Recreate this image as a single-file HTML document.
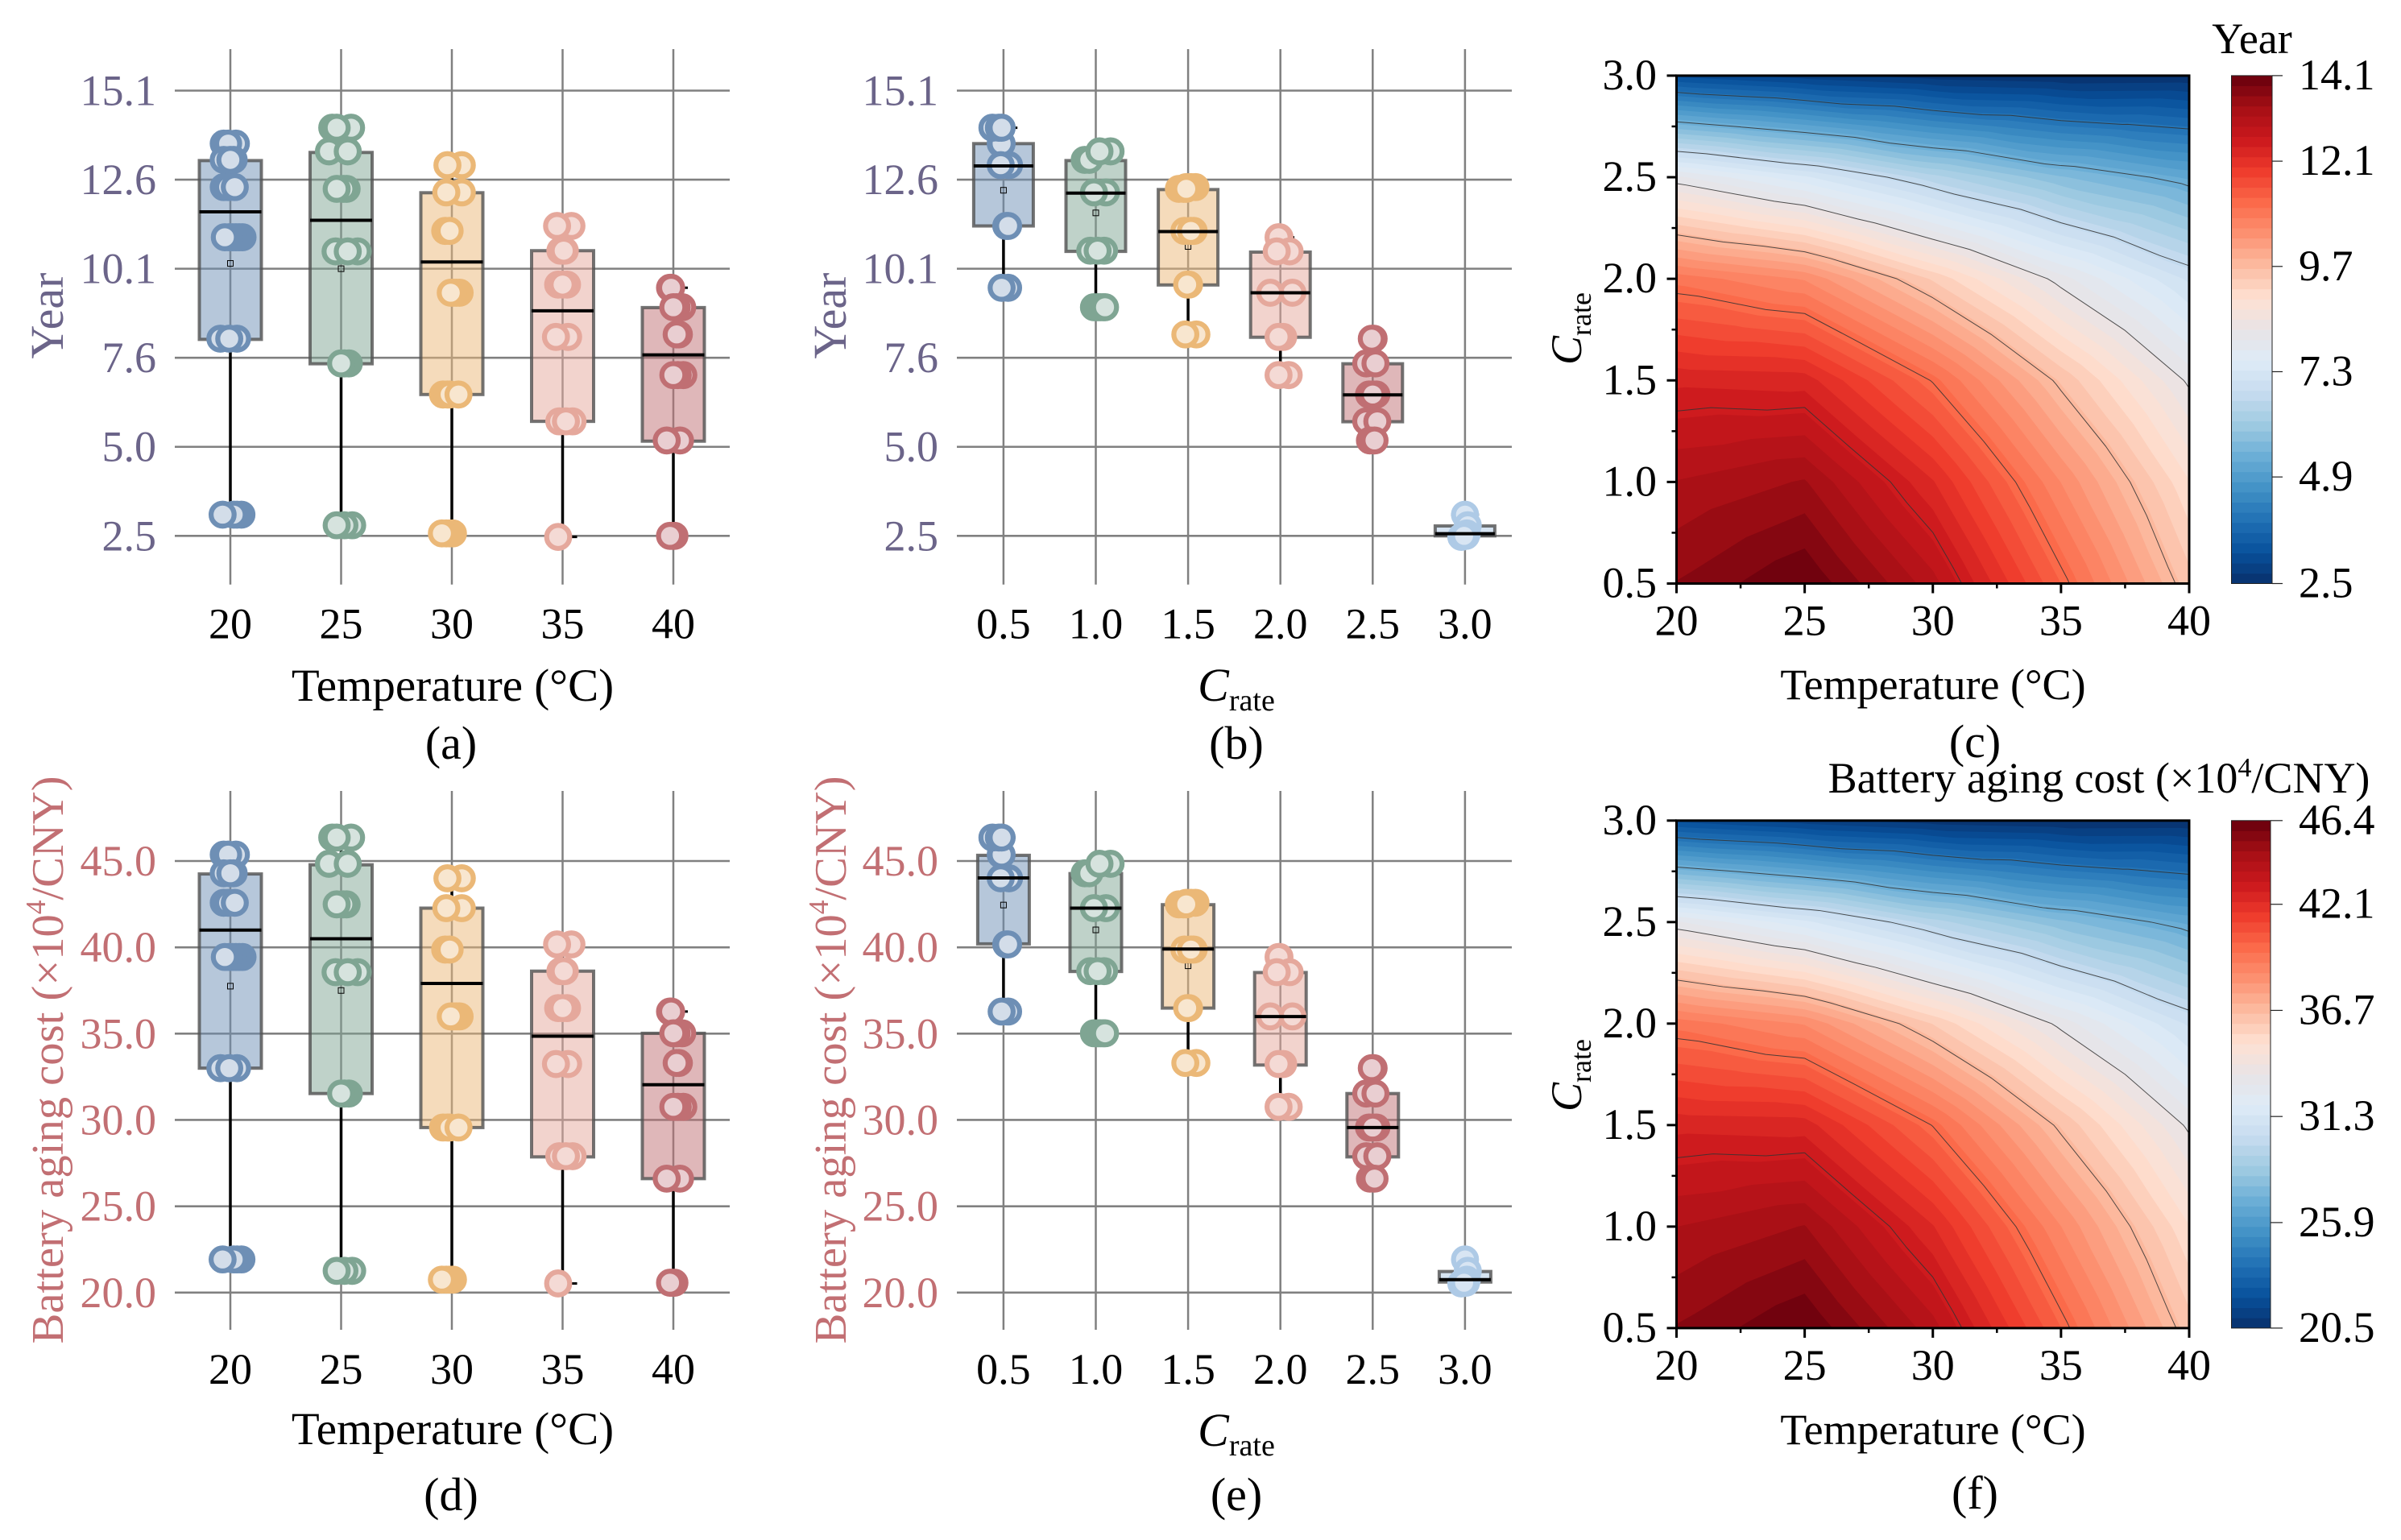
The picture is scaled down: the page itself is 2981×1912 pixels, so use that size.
<!DOCTYPE html>
<html lang="en">
<head>
<meta charset="utf-8">
<title>Battery life and aging cost</title>
<style>
html,body{margin:0;padding:0;background:#fff;}
svg{display:block;}
text{font-family:"Liberation Serif","Times New Roman",serif;fill:#000;}
</style>
</head>
<body>
<svg id="fig" xmlns="http://www.w3.org/2000/svg" width="2981" height="1912" viewBox="0 0 2981 1912">
<rect width="2981" height="1912" fill="#fff"/>

<text transform="translate(78,392) rotate(-90)" text-anchor="middle" font-size="58" style="fill:#6b6489">Year</text>
<text transform="translate(1050,392) rotate(-90)" text-anchor="middle" font-size="58" style="fill:#6b6489">Year</text>
<text transform="translate(78,1316) rotate(-90)" text-anchor="middle" font-size="56.6" style="fill:#c26f73">Battery aging cost (×10<tspan font-size="35" dy="-22">4</tspan><tspan dy="22">/CNY)</tspan></text>
<text transform="translate(1050,1316) rotate(-90)" text-anchor="middle" font-size="56.6" style="fill:#c26f73">Battery aging cost (×10<tspan font-size="35" dy="-22">4</tspan><tspan dy="22">/CNY)</tspan></text>

<text x="562" y="870" text-anchor="middle" font-size="57">Temperature (°C)</text>
<text x="562" y="1793" text-anchor="middle" font-size="57">Temperature (°C)</text>
<text x="1535" y="870" text-anchor="middle" font-size="58"><tspan font-style="italic">C</tspan><tspan font-size="38" dy="12">rate</tspan></text>
<text x="1535" y="1795" text-anchor="middle" font-size="58"><tspan font-style="italic">C</tspan><tspan font-size="38" dy="12">rate</tspan></text>
<text x="2400" y="868" text-anchor="middle" font-size="54">Temperature (°C)</text>
<text x="2400" y="1793" text-anchor="middle" font-size="54">Temperature (°C)</text>
<text transform="translate(1963,408) rotate(-90)" text-anchor="middle" font-size="54"><tspan font-style="italic">C</tspan><tspan font-size="36" dy="12">rate</tspan></text>
<text transform="translate(1963,1335) rotate(-90)" text-anchor="middle" font-size="54"><tspan font-style="italic">C</tspan><tspan font-size="36" dy="12">rate</tspan></text>

<text x="2796" y="66" text-anchor="middle" font-size="54">Year</text>
<text x="2606" y="984" text-anchor="middle" font-size="54">Battery aging cost (×10<tspan font-size="34" dy="-20">4</tspan><tspan dy="20">/CNY)</tspan></text>

<text x="560" y="942" text-anchor="middle" font-size="58">(a)</text>
<text x="1535" y="942" text-anchor="middle" font-size="58">(b)</text>
<text x="2452" y="940" text-anchor="middle" font-size="58">(c)</text>
<text x="560" y="1875" text-anchor="middle" font-size="58">(d)</text>
<text x="1535" y="1875" text-anchor="middle" font-size="58">(e)</text>
<text x="2452" y="1873" text-anchor="middle" font-size="58">(f)</text>
</svg>

<script>
// ---------- shared categories ----------
var temperatures = [20, 25, 30, 35, 40];
var cRates = [0.5, 1.0, 1.5, 2.0, 2.5, 3.0];
var temperatureLabels = ['20', '25', '30', '35', '40'];
var cRateLabels = ['0.5', '1.0', '1.5', '2.0', '2.5', '3.0'];

// ---------- values: one row per temperature, one entry per C-rate ----------
var yearT20 = [13.60, 13.14, 12.37, 10.95, 8.08, 3.10];
var yearT25 = [14.05, 13.38, 12.32, 10.55, 7.38, 2.80];
var yearT30 = [12.99, 12.22, 11.13, 9.38, 6.50, 2.57];
var yearT35 = [11.27, 10.57, 9.61, 8.13, 5.74, 2.47];
var yearT40 = [9.52, 8.97, 8.20, 7.05, 5.20, 2.50];
var costT20 = [45.37, 44.29, 42.58, 39.44, 33.00, 21.92];
var costT25 = [46.36, 44.84, 42.49, 38.56, 31.53, 21.26];
var costT30 = [44.00, 42.27, 39.87, 36.00, 29.56, 20.75];
var costT35 = [40.17, 38.62, 36.48, 33.24, 27.90, 20.53];
var costT40 = [36.28, 35.02, 33.30, 30.76, 26.60, 20.57];

// ---------- box statistics ----------
var aQ3 = [13.12, 13.35, 12.21, 10.57, 8.96];
var aQ1 = [8.06, 7.37, 6.50, 5.74, 5.18];
var aMedian = [11.67, 11.43, 10.25, 8.87, 7.62];
var aMean = [10.21, 10.06, 9.6, 8.3, 7.1];
var bQ3 = [13.60, 13.12, 12.30, 10.53, 7.37, 2.78];
var bQ1 = [11.27, 10.55, 9.60, 8.12, 5.73, 2.50];
var bMedian = [12.97, 12.20, 11.11, 9.38, 6.49, 2.56];
var bMean = [12.28, 11.64, 10.69, 9.3, 6.4, 2.6];
var dQ3 = [44.25, 44.78, 42.27, 38.62, 35.02];
var dQ1 = [33.00, 31.53, 29.56, 27.86, 26.60];
var dMedian = [41.00, 40.50, 37.91, 34.85, 32.04];
var dMean = [37.75, 37.50, 36.0, 33.2, 30.7];
var eQ3 = [45.33, 44.27, 42.47, 38.54, 31.53, 21.22];
var eQ1 = [40.20, 38.60, 36.48, 33.18, 27.86, 20.61];
var eMedian = [44.02, 42.27, 39.90, 35.99, 29.56, 20.75];
var eMean = [42.45, 41.01, 38.93, 35.9, 29.5, 20.9];

// ---------- repeated-sample jitter, hundredths of a category step ----------
var tempJitter = [
  [[5,-6,-2],[-6,3,0],[-6,-2,4],[11,8,5,2,-1,-5],[-9,6,-1],[10,6,3,-7]],
  [[9,-8,-4],[-11,6],[5,2,-4],[15,-5,6],[7,3,0],[10,3,-4]],
  [[9,-4],[9,-5],[-6,-2],[7,4,1,-1],[-8,-4,-2,6],[1,-2,-5,-9]],
  [[8,-5],[2,-2,1],[-4,4,0],[5,-6],[9,-3,3],[-4]],
  [[-3,-2],[8,3,0],[5,3],[9,4,0],[6,-6],[1,-1,-3]]
];
var rateJitter = [
  [[-3,-2],[-12,-5,-2],[6,-3],[3,5],[5,-2]],
  [[-12,-7],[16,4],[11,-2],[9,-6,2],[-2,2,5,8,10]],
  [[8,3,-2],[-10,-5,-2],[-4,6,3],[1,-1],[9,-3]],
  [[-1,-2],[10,-4],[13,-11],[3,-2],[9,-2]],
  [[1,-1],[-7,3],[-4,4,0],[-7,5],[-3,2]],
  [[0],[3],[2],[-4],[1,-1]]
];

// ---------- tick values and labels ----------
var yearTicks = [2.5, 5.02, 7.54, 10.06, 12.58, 15.1];
var yearTickLabels = ['2.5', '5.0', '7.6', '10.1', '12.6', '15.1'];
var costTicks = [20, 25, 30, 35, 40, 45];
var costTickLabels = ['20.0', '25.0', '30.0', '35.0', '40.0', '45.0'];
var yearBarTicks = [2.47, 4.9, 7.3, 9.7, 12.1, 14.05];
var yearBarLabels = ['2.5', '4.9', '7.3', '9.7', '12.1', '14.1'];
var costBarTicks = [20.53, 25.9, 31.3, 36.7, 42.1, 46.36];
var costBarLabels = ['20.5', '25.9', '31.3', '36.7', '42.1', '46.4'];

var yearGrid = [yearT20, yearT25, yearT30, yearT35, yearT40];
var costGrid = [costT20, costT25, costT30, costT35, costT40];

// ---------- styling ----------
var tempColors = ['#6e8fb5', '#7fa593', '#ebb877', '#e5a89c', '#c06f73'];
var tempFills = ['#d3dde9', '#d6e3de', '#f8e6cf', '#f4dad5', '#e9ced1'];
var rateColors = ['#6e8fb5', '#7fa593', '#ebb877', '#e5a89c', '#c06f73', '#aecae6'];
var rateFills = ['#d3dde9', '#d6e3de', '#f8e6cf', '#f4dad5', '#e9ced1', '#d8e5f3'];
var cmapStops = ['#08306b','#08519c','#2171b5','#4292c6','#6baed6','#9ecae1','#c6dbef','#deebf7','#e8e4e6','#fee0d2','#fcbba1','#fc9272','#fb6a4a','#ef3b2c','#cb181d','#a50f15','#67000d'];

var svg = document.getElementById('fig');
var NS = 'http://www.w3.org/2000/svg';
function el(tag, attrs, parent) {
  var e = document.createElementNS(NS, tag);
  for (var k in attrs) e.setAttribute(k, attrs[k]);
  (parent || svg).appendChild(e);
  return e;
}
function rgb(h) { return [parseInt(h.substr(1,2),16), parseInt(h.substr(3,2),16), parseInt(h.substr(5,2),16)]; }
function cmap(t) {
  var s = Math.max(0, Math.min(0.9999, t)) * (cmapStops.length - 1);
  var i = Math.floor(s), f = s - i, a = rgb(cmapStops[i]), b = rgb(cmapStops[i+1]);
  return 'rgb(' + Math.round(a[0]+(b[0]-a[0])*f) + ',' + Math.round(a[1]+(b[1]-a[1])*f) + ',' + Math.round(a[2]+(b[2]-a[2])*f) + ')';
}

function boxPanel(p) {
  var g = el('g', {});
  
  
  function X(i) { return p.x0 + i * p.dx; }
  function Y(v) { return p.yBase + (v - p.vBase) * p.yScale; }

  p.ticks.forEach(function (v, i) {
    var h = el('line', {x1: p.left, x2: p.right, y1: Y(v), y2: Y(v), stroke: '#808080', 'stroke-width': 2.6}, g);
    
    
    var t = el('text', {x: p.tickRight, y: Y(v) + 18, 'text-anchor': 'end', 'font-size': 54, style: 'fill:' + p.tickColor}, g);
    t.textContent = p.tickLabels[i];
    
    
  });
  p.cats.forEach(function (c, i) {
    var vl = el('line', {x1: X(i), x2: X(i), y1: p.top, y2: p.bottom, stroke: '#808080', 'stroke-width': 2.5}, g);
    
    
    var t = el('text', {x: X(i), y: p.bottom + 67, 'text-anchor': 'middle', 'font-size': 54}, g);
    t.textContent = c;
    
    
  });

  p.cats.forEach(function (c, i) {
    var vals = p.values(i);
    var hi = Math.max.apply(null, vals), lo = Math.min.apply(null, vals);
    var x = X(i), hw = p.boxW / 2, cap = p.boxW * 0.234;
    var w1 = el('line', {x1: x, x2: x, y1: Y(p.q3[i]), y2: Y(hi), stroke: '#000', 'stroke-width': 3.5}, g);
    
    
    var w2 = el('line', {x1: x, x2: x, y1: Y(p.q1[i]), y2: Y(lo), stroke: '#000', 'stroke-width': 3.5}, g);
    
    
    var c1 = el('line', {x1: x - cap, x2: x + cap, y1: Y(hi), y2: Y(hi), stroke: '#000', 'stroke-width': 3}, g);
    
    
    var c2 = el('line', {x1: x - cap, x2: x + cap, y1: Y(lo), y2: Y(lo), stroke: '#000', 'stroke-width': 3}, g);
    
    
    var b = el('rect', {x: x - hw, y: Y(p.q3[i]), width: p.boxW, height: Y(p.q1[i]) - Y(p.q3[i]), fill: p.colors[i], 'fill-opacity': 0.5, stroke: '#505050', 'stroke-opacity': 0.8, 'stroke-width': 4}, g);
    
    
    var m = el('rect', {x: x - 3.5, y: Y(p.mean[i]) - 3.5, width: 7, height: 7, fill: 'none', stroke: '#000', 'stroke-width': 1}, g);
    
    
    vals.forEach(function (v, j) {
      p.jitter[i][j].forEach(function (jit) {
        var pt = el('circle', {cx: x + jit * p.dx / 100, cy: Y(v), r: 14.3, fill: p.fills[i], stroke: p.colors[i], 'stroke-width': 6.2}, g);
        
        
      });
    });
    var med = el('line', {x1: x - hw, x2: x + hw, y1: Y(p.median[i]), y2: Y(p.median[i]), stroke: '#000', 'stroke-width': 4}, g);
    
    
  });
}

function byTemp(grid) { return function (i) { return grid[i]; }; }
function byRate(grid) { return function (i) { return grid.map(function (r) { return r[i]; }); }; }

var yearAxis = {ticks: yearTicks, tickLabels: yearTickLabels, tickColor: '#6b6489', yBase: 665.3, vBase: 2.5, yScale: (112.5 - 665.3) / 12.6, top: 61, bottom: 725.7};
var costAxis = {ticks: costTicks, tickLabels: costTickLabels, tickColor: '#c26f73', yBase: 1604.8, vBase: 20, yScale: (1069 - 1604.8) / 25, top: 982, bottom: 1651};
function merge(a, b) { var o = {}; for (var k in a) o[k] = a[k]; for (var k2 in b) o[k2] = b[k2]; return o; }

var leftLayout = {x0: 286, dx: 137.5, left: 217, right: 906, tickRight: 194, colors: tempColors, fills: tempFills, cats: temperatureLabels, jitter: tempJitter};
var midLayout = {x0: 1245.9, dx: 114.6, left: 1188, right: 1877, tickRight: 1165, colors: rateColors, fills: rateFills, cats: cRateLabels, jitter: rateJitter};

boxPanel(merge(merge(leftLayout, yearAxis), {name: 'panel-a-boxplot', boxW: 77, q1: aQ1, q3: aQ3, median: aMedian, mean: aMean, values: byTemp(yearGrid)}));
boxPanel(merge(merge(midLayout, yearAxis), {name: 'panel-b-boxplot', boxW: 74, q1: bQ1, q3: bQ3, median: bMedian, mean: bMean, values: byRate(yearGrid)}));
boxPanel(merge(merge(leftLayout, costAxis), {name: 'panel-d-boxplot', boxW: 77, q1: dQ1, q3: dQ3, median: dMedian, mean: dMean, values: byTemp(costGrid)}));
boxPanel(merge(merge(midLayout, costAxis), {name: 'panel-e-boxplot', boxW: 64, q1: eQ1, q3: eQ3, median: eMedian, mean: eMean, values: byRate(costGrid)}));

// ---------- contour panels ----------
function heatPanel(p) {
  var g = el('g', {});
  
  
  var L = 2081.5, R = 2718, T = p.top, B = p.bottom;
  function X(t) { return L + (t - 20) / 20 * (R - L); }
  function Y(c) { return B - (c - 0.5) / 2.5 * (B - T); }
  var flat = [].concat.apply([], p.grid);
  var vmin = Math.min.apply(null, flat), vmax = Math.max.apply(null, flat);

  var tris = [];
  for (var i = 0; i < temperatures.length - 1; i++) {
    for (var j = 0; j < cRates.length - 1; j++) {
      var a = [X(temperatures[i]), Y(cRates[j]), p.grid[i][j]];
      var b = [X(temperatures[i+1]), Y(cRates[j]), p.grid[i+1][j]];
      var c = [X(temperatures[i+1]), Y(cRates[j+1]), p.grid[i+1][j+1]];
      var d = [X(temperatures[i]), Y(cRates[j+1]), p.grid[i][j+1]];
      var m = [(a[0]+c[0])/2, (a[1]+c[1])/2, (a[2]+b[2]+c[2]+d[2])/4];
      tris.push([a,b,m],[b,c,m],[c,d,m],[d,a,m]);
    }
  }
  function clipAbove(tri, lev) {
    var out = [];
    for (var k = 0; k < 3; k++) {
      var s = tri[k], e = tri[(k+1)%3];
      if (s[2] >= lev) out.push(s);
      if ((s[2] >= lev) !== (e[2] >= lev)) {
        var f = (lev - s[2]) / (e[2] - s[2]);
        out.push([s[0]+(e[0]-s[0])*f, s[1]+(e[1]-s[1])*f, lev]);
      }
    }
    return out;
  }
  var bands = 50;
  for (var n = 0; n < bands; n++) {
    var lev = vmin + (vmax - vmin) * n / bands;
    var dstr = '';
    tris.forEach(function (tr) {
      var poly = n === 0 ? tr : clipAbove(tr, lev);
      if (poly.length > 2) {
        dstr += 'M' + poly.map(function (q) { return q[0].toFixed(2) + ' ' + q[1].toFixed(2); }).join('L') + 'Z';
      }
    });
    var band = el('path', {d: dstr, fill: cmap((n + 0.5) / bands)}, g);
    
    
  }
  for (var q = 1; q < 8; q++) {
    var lv = vmin + (vmax - vmin) * q / 8, ds = '';
    tris.forEach(function (tr) {
      var pts = [];
      for (var k = 0; k < 3; k++) {
        var s = tr[k], e = tr[(k+1)%3];
        if ((s[2] >= lv) !== (e[2] >= lv)) {
          var f = (lv - s[2]) / (e[2] - s[2]);
          pts.push((s[0]+(e[0]-s[0])*f).toFixed(2) + ' ' + (s[1]+(e[1]-s[1])*f).toFixed(2));
        }
      }
      if (pts.length === 2) ds += 'M' + pts[0] + 'L' + pts[1];
    });
    var cl = el('path', {d: ds, fill: 'none', stroke: '#333', 'stroke-opacity': 0.85, 'stroke-width': 1}, g);
    
    
  }

  var sp = el('rect', {x: L, y: T, width: R - L, height: B - T, fill: 'none', stroke: '#000', 'stroke-width': 3}, g);
  
  

  temperatures.forEach(function (t, i) {
    var tk = el('line', {x1: X(t), x2: X(t), y1: B, y2: B + 12, stroke: '#000', 'stroke-width': 3}, g);
    
    
    var lb = el('text', {x: X(t), y: B + 64, 'text-anchor': 'middle', 'font-size': 54}, g);
    lb.textContent = temperatureLabels[i];
    
    
    if (i < temperatures.length - 1) {
      var mt = (t + temperatures[i+1]) / 2;
      var mk = el('line', {x1: X(mt), x2: X(mt), y1: B, y2: B + 6, stroke: '#000', 'stroke-width': 2.5}, g);
      
      
    }
  });
  cRates.forEach(function (c, i) {
    var tk = el('line', {x1: L - 12, x2: L, y1: Y(c), y2: Y(c), stroke: '#000', 'stroke-width': 3}, g);
    
    
    var lb = el('text', {x: 2057, y: Y(c) + 17, 'text-anchor': 'end', 'font-size': 54}, g);
    lb.textContent = cRateLabels[i];
    
    
    if (i < cRates.length - 1) {
      var mc = (c + cRates[i+1]) / 2;
      var mk = el('line', {x1: L - 6, x2: L, y1: Y(mc), y2: Y(mc), stroke: '#000', 'stroke-width': 2.5}, g);
      
      
    }
  });

  // colorbar
  var cb = el('g', {}, g);
  
  
  var cx = 2770.5, cw = p.barW;
  function CY(v) { return B - (v - vmin) / (vmax - vmin) * (B - T); }
  for (var s = 0; s < bands; s++) {
    var v0 = vmin + (vmax - vmin) * s / bands, v1 = vmin + (vmax - vmin) * (s + 1) / bands;
    var seg = el('rect', {x: cx, y: CY(v1), width: cw, height: CY(v0) - CY(v1) + (s ? 0.4 : 0), fill: cmap((s + 0.5) / bands)}, cb);
    
    
  }
  var fr = el('rect', {x: cx, y: T, width: cw, height: B - T, fill: 'none', stroke: '#222', 'stroke-width': 1}, cb);
  
  
  p.barTicks.forEach(function (v, i) {
    var y = CY(v);
    var tk = el('line', {x1: cx + cw, x2: 2834, y1: y, y2: y, stroke: '#222', 'stroke-width': 1.2}, cb);
    
    
    var lb = el('text', {x: 2854, y: y + 17, 'font-size': 54}, cb);
    lb.textContent = p.barLabels[i];
    
    
  });
}

heatPanel({name: 'panel-c-contour', grid: yearGrid, top: 93.9, bottom: 724.5, barW: 50.5, barTicks: yearBarTicks, barLabels: yearBarLabels});
heatPanel({name: 'panel-f-contour', grid: costGrid, top: 1018.8, bottom: 1648.9, barW: 48.5, barTicks: costBarTicks, barLabels: costBarLabels});
</script>
</body>
</html>
